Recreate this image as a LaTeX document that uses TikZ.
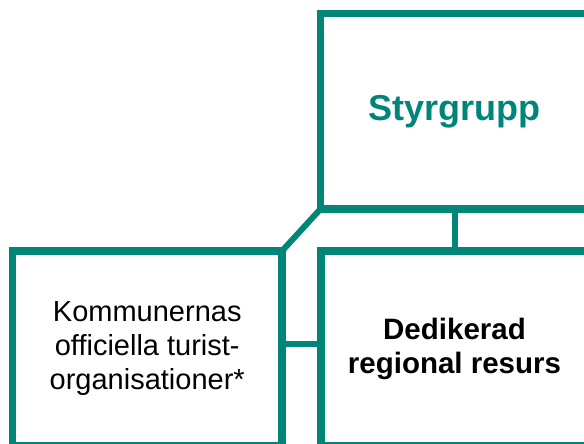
\documentclass[tikz,border=0pt]{standalone}
\usepackage{fontspec}
\setmainfont{Liberation Sans}
\definecolor{teal1}{RGB}{0,134,121}
\begin{document}
\begin{tikzpicture}[x=1pt,y=-1pt,
  box/.style={draw=teal1, line width=7.5pt, rectangle, inner sep=0pt, outer sep=0pt, align=center},
  conn/.style={draw=teal1, line width=6pt}]
\useasboundingbox (0,0) rectangle (584,444);
\clip (0,0) rectangle (584,444);
\node[box, minimum width=267.5pt, minimum height=195.5pt, text=teal1,
      font=\fontsize{36}{40}\selectfont\bfseries] (sty) at (454.25,111.25) {Styrgrupp};
\node[box, minimum width=269.5pt, minimum height=195pt,
      font=\fontsize{29}{34}\selectfont] (kom) at (147.25,348.5)
      {Kommunernas\\officiella turist-\\organisationer*};
\node[box, minimum width=267pt, minimum height=195pt,
      font=\fontsize{29.5}{34}\selectfont\bfseries] (ded) at (454.5,348.5)
      {Dedikerad\\regional resurs};
\draw[conn] (kom.north east) -- (sty.south west);
\draw[conn] (sty.south -| 455,0) -- (ded.north -| 455,0);
\draw[conn] (kom.east |- 0,343.5) -- (ded.west |- 0,343.5);
\end{tikzpicture}
\end{document}
